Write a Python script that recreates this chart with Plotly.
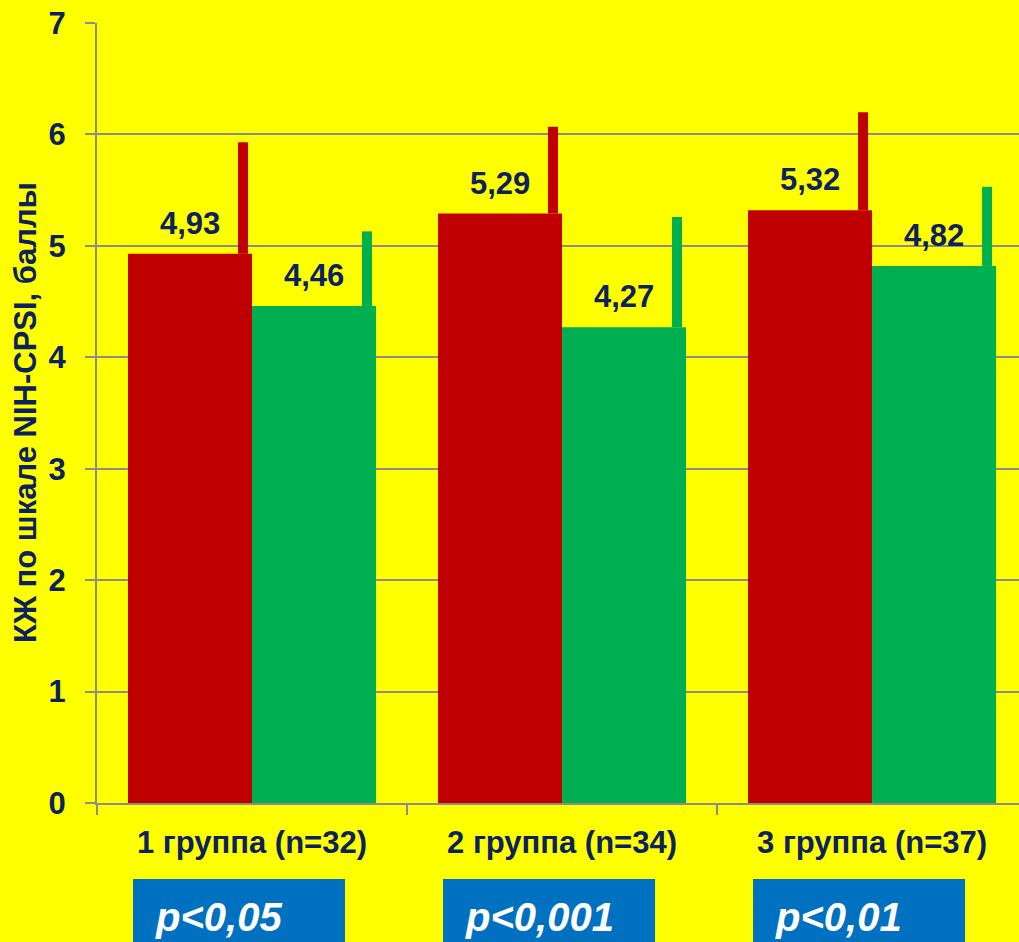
import plotly.graph_objects as go

groups = ["1 группа (n=32)", "2 группа (n=34)", "3 группа (n=37)"]
red_vals = [4.93, 5.29, 5.32]
green_vals = [4.46, 4.27, 4.82]
red_sd = [1.00, 0.78, 0.88]
green_sd = [0.67, 0.99, 0.71]
p_labels = ["p<0,05", "p<0,001", "p<0,01"]
y_ticks = [0, 1, 2, 3, 4, 5, 6, 7]
y_title = "КЖ по шкале NIH-CPSI, баллы"

RED = "#C00000"
GREEN = "#00B050"
YELLOW = "#FFFF00"
BLUE = "#0070C0"
NAVY = "#0B2160"
GRID = "#8C8C8C"
FONT = "Liberation Sans, Arial, sans-serif"

xpos = list(range(len(groups)))
bar_w = 0.4
px = 1 / 310  # one pixel in x data units
err_off = 9 * px

fig = go.Figure()
fig.add_trace(go.Bar(x=xpos, y=red_vals, marker=dict(color=RED, line=dict(width=0)),
                     name="red", hoverinfo="skip"))
fig.add_trace(go.Bar(x=xpos, y=green_vals, marker=dict(color=GREEN, line=dict(width=0)),
                     name="green", hoverinfo="skip"))

fig.add_trace(go.Scatter(
    x=[i - err_off for i in xpos], y=red_vals, mode="markers",
    marker=dict(size=1, opacity=0), hoverinfo="skip",
    error_y=dict(type="data", symmetric=False, array=red_sd, arrayminus=[0] * 3,
                 thickness=10, width=0, color=RED)))
fig.add_trace(go.Scatter(
    x=[i + bar_w - err_off for i in xpos], y=green_vals, mode="markers",
    marker=dict(size=1, opacity=0), hoverinfo="skip",
    error_y=dict(type="data", symmetric=False, array=green_sd, arrayminus=[0] * 3,
                 thickness=10, width=0, color=GREEN)))

annotations = []
shapes = []
for i in xpos:
    for off, v in ((-bar_w / 2, red_vals[i]), (bar_w / 2, green_vals[i])):
        annotations.append(dict(
            x=i + off, y=v, xref="x", yref="y", text=f"{v:.2f}".replace(".", ","),
            showarrow=False, yanchor="bottom", yshift=11,
            font=dict(family=FONT, size=31, color=NAVY, weight="bold")))
    box_x0 = i - bar_w + 5 * px
    shapes.append(dict(type="rect", xref="x", yref="paper",
                       x0=box_x0, x1=box_x0 + 212 * px, y0=-0.0974, y1=-0.3,
                       fillcolor=BLUE, line=dict(width=0), layer="above"))
    annotations.append(dict(
        x=box_x0 + 20 * px, xref="x", y=-0.1154, yref="paper", xanchor="left", yanchor="top",
        text=f"<b><i>{p_labels[i]}</i></b>", showarrow=False,
        font=dict(family=FONT, size=40, color="white")))

annotations.append(dict(
    x=0, xref="paper", y=0.5, yref="paper", xanchor="center", yanchor="middle",
    xshift=-72, text=f"<b>{y_title}</b>", textangle=-90, showarrow=False,
    font=dict(family=FONT, size=31, color=NAVY)))

fig.update_layout(
    width=1019, height=942,
    margin=dict(l=97, r=0, t=23, b=139),
    paper_bgcolor=YELLOW, plot_bgcolor=YELLOW,
    barmode="group", bargap=0.2, bargroupgap=0,
    showlegend=False,
    annotations=annotations,
    shapes=shapes,
    xaxis=dict(
        range=[-0.5, 2.474], tickvals=xpos, ticktext=groups, ticks="", showgrid=False,
        showline=True, linecolor=GRID, linewidth=2, zeroline=False,
        tickfont=dict(family=FONT, size=31, color=NAVY, weight="bold"),
        ticklabelstandoff=11,
        minor=dict(tickvals=[-0.5, 0.5, 1.5], ticks="outside", ticklen=10,
                   tickcolor=GRID, tickwidth=2, showgrid=False),
    ),
    yaxis=dict(
        range=[0, 7], tickvals=y_ticks, ticks="outside", ticklen=10, tickcolor=GRID,
        tickwidth=2, showgrid=True, gridcolor=GRID, gridwidth=2,
        showline=True, linecolor=GRID, linewidth=2, zeroline=False,
        tickfont=dict(family=FONT, size=31, color=NAVY, weight="bold"),
        ticklabelstandoff=13,
    ),
)

fig.write_html("out.html",
               config={"displayModeBar": False},
               post_script="document.body.style.margin='0px';"
                           "document.body.style.background='#FFFF00';")
